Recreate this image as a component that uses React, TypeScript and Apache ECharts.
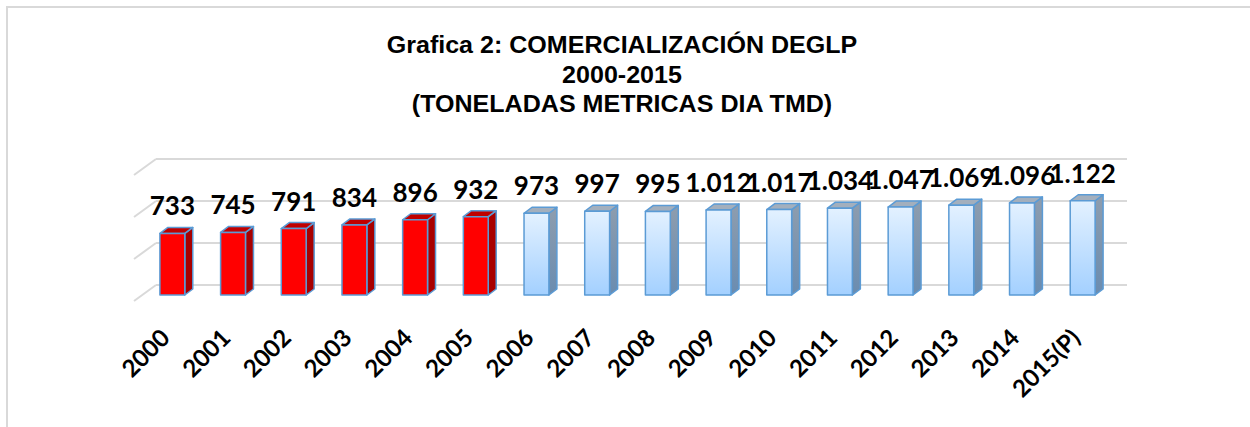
import React, { useEffect, useRef } from "react";
import * as echarts from "echarts";

const categories = [
  "2000", "2001", "2002", "2003", "2004", "2005", "2006", "2007",
  "2008", "2009", "2010", "2011", "2012", "2013", "2014", "2015(P)",
];
const values = [733, 745, 791, 834, 896, 932, 973, 997, 995, 1012, 1017, 1034, 1047, 1069, 1096, 1122];
const barGroups = ["r", "r", "r", "r", "r", "r", "b", "b", "b", "b", "b", "b", "b", "b", "b", "b"];
const wallTicks = [0, 500, 1000, 1500];
const titleLines = ["Grafica 2: COMERCIALIZACIÓN DEGLP", "2000-2015", "(TONELADAS METRICAS DIA TMD)"];

const fmt = (v: number) => {
  const s = String(Math.round(v));
  return s.length > 3 ? s.slice(0, -3) + "." + s.slice(-3) : s;
};

const GRID_LINE = "#D9D9D9";
const OUTLINE = "#5B9BD5";

export default function App() {
  const ref = useRef<HTMLDivElement>(null);
  useEffect(() => {
    if (!ref.current) return;
    const chart = echarts.init(ref.current, null, { renderer: "svg" });

    const blueFront = new echarts.graphic.LinearGradient(0, 0, 0, 1, [
      { offset: 0, color: "#E3F1FF" },
      { offset: 1, color: "#A3D0FF" },
    ]);
    const blueSide = new echarts.graphic.LinearGradient(0, 0, 0, 1, [
      { offset: 0, color: "#8E9DAE" },
      { offset: 1, color: "#6A8CB0" },
    ]);

    const option: any = {
      animation: false,
      backgroundColor: "#FFFFFF",
      graphic: [
        {
          type: "rect",
          silent: true,
          shape: { x: 7, y: 7, width: 1280, height: 460 },
          style: { fill: "none", stroke: GRID_LINE, lineWidth: 2 },
        },
        ...titleLines.map((t, k) => ({
          type: "text",
          x: 622,
          y: 45 + k * 29.5,
          scaleX: 1.09,
          style: {
            text: t,
            fontFamily: "Liberation Sans, Arial, sans-serif",
            fontWeight: "bold",
            fontSize: 23,
            fill: "#000000",
            align: "center",
            verticalAlign: "middle",
          },
        })),
      ],
      grid: [
        { left: 156, right: 123, top: 159, bottom: 142, outerBoundsMode: "none", containLabel: false },
        { left: 142, right: 137, top: 169, bottom: 132, outerBoundsMode: "none", containLabel: false },
      ],
      xAxis: [
        {
          type: "category",
          gridIndex: 0,
          data: categories,
          axisLine: { show: false },
          axisTick: { show: false },
          axisLabel: { show: false },
          splitLine: { show: false },
        },
        {
          type: "category",
          gridIndex: 1,
          data: categories,
          axisLine: { show: false },
          axisTick: { show: false },
          splitLine: { show: false },
          axisLabel: {
            show: true,
            interval: 0,
            rotate: 45,
            margin: 30,
            padding: [0, 11, 0, 0],
            fontFamily: "Lato, sans-serif",
            fontWeight: "bold",
            fontSize: 24,
            color: "#000000",
          },
        },
      ],
      yAxis: [
        {
          type: "value",
          gridIndex: 0,
          min: 0,
          max: 1500,
          interval: 500,
          axisLine: { show: false },
          axisTick: { show: false },
          axisLabel: { show: false },
          splitLine: { show: true, lineStyle: { color: GRID_LINE, width: 2 } },
        },
        {
          type: "value",
          gridIndex: 1,
          min: 0,
          max: 1500,
          interval: 500,
          axisLine: { show: false },
          axisTick: { show: false },
          axisLabel: { show: false },
          splitLine: { show: false },
        },
      ],
      series: [
        {
          type: "custom",
          xAxisIndex: 0,
          yAxisIndex: 0,
          silent: true,
          data: wallTicks.map((t) => [0, t]),
          encode: { x: 0, y: 1 },
          renderItem: (params: any, api: any) => {
            const y = api.coord([0, api.value(1)])[1];
            const x = params.coordSys.x;
            return {
              type: "line",
              shape: { x1: x - 22, y1: y + 16, x2: x, y2: y },
              style: { stroke: GRID_LINE, lineWidth: 2 },
            };
          },
        },
        {
          type: "custom",
          xAxisIndex: 1,
          yAxisIndex: 1,
          silent: true,
          clip: false,
          data: values.map((v, i) => [i, v]),
          encode: { x: 0, y: 1 },
          renderItem: (params: any, api: any) => {
            const i = api.value(0);
            const v = api.value(1);
            const base = api.coord([i, 0]);
            const top = api.coord([i, v]);
            const bw = api.size([1, 0])[0] * 0.41;
            const x0 = base[0] - bw / 2;
            const x1 = base[0] + bw / 2;
            const yb = base[1];
            const yt = top[1];
            const dx = 8;
            const dy = -6;
            const red = barGroups[i] === "r";
            const stroke = { stroke: OUTLINE, lineWidth: 1.5, lineJoin: "round" };
            return {
              type: "group",
              children: [
                {
                  type: "polygon",
                  shape: { points: [[x1, yt], [x1 + dx, yt + dy], [x1 + dx, yb + dy], [x1, yb]] },
                  style: { fill: red ? "#A80000" : blueSide, ...stroke },
                },
                {
                  type: "polygon",
                  shape: { points: [[x0, yt], [x0 + dx, yt + dy], [x1 + dx, yt + dy], [x1, yt]] },
                  style: { fill: red ? "#C00000" : "#A3AFBD", ...stroke },
                },
                {
                  type: "rect",
                  shape: { x: x0, y: yt, width: bw, height: yb - yt },
                  style: { fill: red ? "#FF0000" : blueFront, ...stroke },
                },
                {
                  type: "text",
                  x: base[0],
                  y: yt - 28,
                  style: {
                    text: fmt(v),
                    fontFamily: "Lato, sans-serif",
                    fontWeight: "bold",
                    fontSize: 26,
                    fill: "#000000",
                    align: "center",
                    verticalAlign: "middle",
                  },
                },
              ],
            };
          },
        },
      ],
    };

    chart.setOption(option);
    return () => chart.dispose();
  }, []);

  return (
    <div
      ref={ref}
      style={{ position: "fixed", left: 0, top: 0, width: 1250, height: 427 }}
    />
  );
}
